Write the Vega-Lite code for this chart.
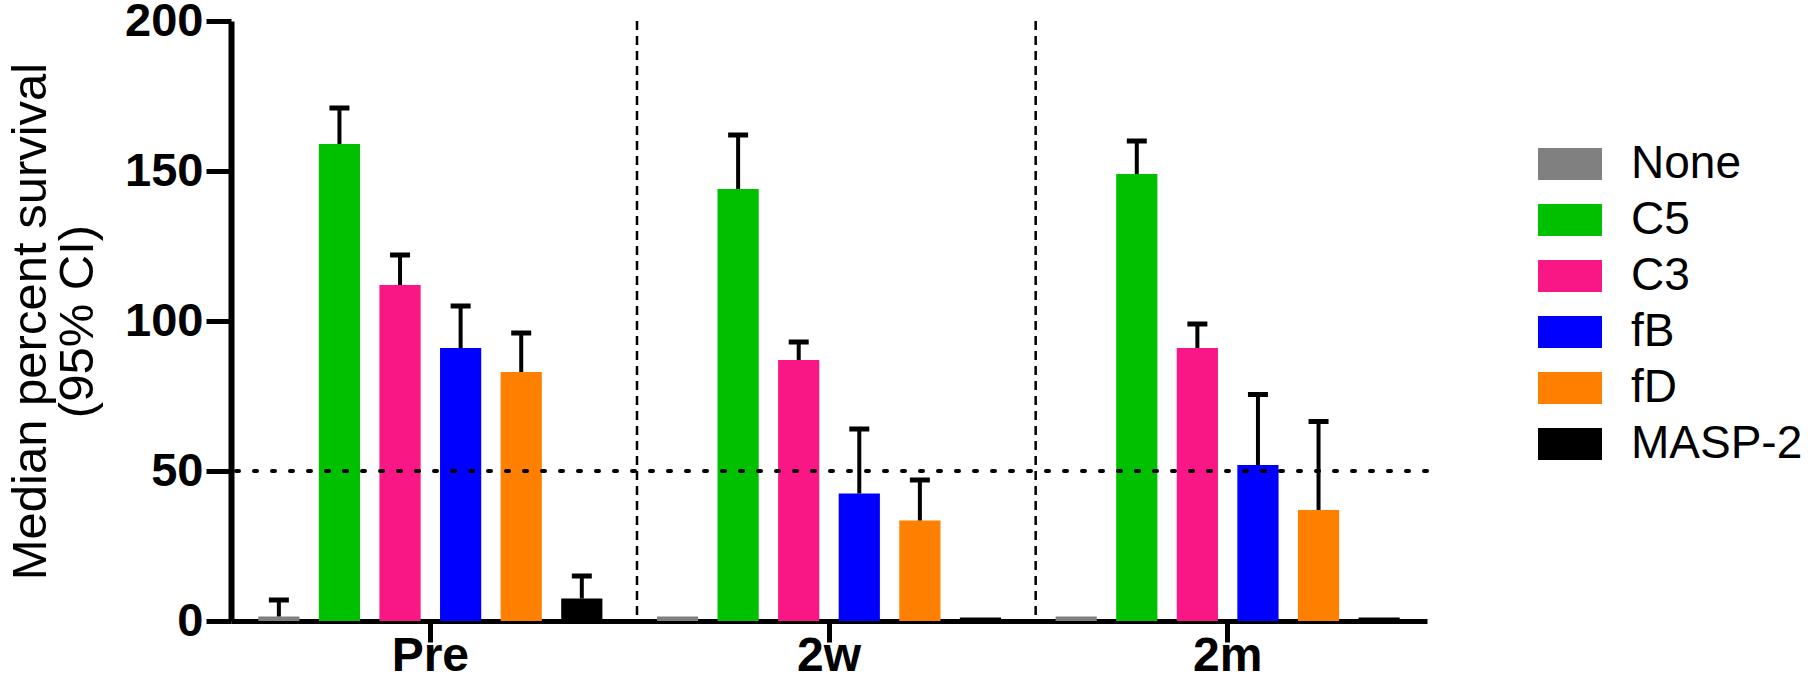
{
  "$schema": "https://vega.github.io/schema/vega-lite/v6.json",
  "width": 1196,
  "height": 600,
  "autosize": "none",
  "padding": {"left": 231, "top": 21, "right": 388, "bottom": 78},
  "background": "white",
  "config": {
    "view": {"stroke": null},
    "font": "Liberation Sans",
    "axis": {"grid": false, "domainColor": "black", "tickColor": "black", "labelColor": "black", "titleColor": "black", "zindex": 1}
  },
  "datasets": {
    "bars": [
      {"g": "Pre", "s": "None", "v": 1.5, "up": 7},
      {"g": "Pre", "s": "C5", "v": 159, "up": 171},
      {"g": "Pre", "s": "C3", "v": 112, "up": 122},
      {"g": "Pre", "s": "fB", "v": 91, "up": 105},
      {"g": "Pre", "s": "fD", "v": 83, "up": 96},
      {"g": "Pre", "s": "MASP-2", "v": 7.5, "up": 15},
      {"g": "2w", "s": "None", "v": 1.5, "up": null},
      {"g": "2w", "s": "C5", "v": 144, "up": 162},
      {"g": "2w", "s": "C3", "v": 87, "up": 93},
      {"g": "2w", "s": "fB", "v": 42.5, "up": 64},
      {"g": "2w", "s": "fD", "v": 33.5, "up": 47},
      {"g": "2w", "s": "MASP-2", "v": 1.2, "up": null},
      {"g": "2m", "s": "None", "v": 1.5, "up": null},
      {"g": "2m", "s": "C5", "v": 149, "up": 160},
      {"g": "2m", "s": "C3", "v": 91, "up": 99},
      {"g": "2m", "s": "fB", "v": 52, "up": 75.5},
      {"g": "2m", "s": "fD", "v": 37, "up": 66.5},
      {"g": "2m", "s": "MASP-2", "v": 1.2, "up": null}
    ],
    "seps": [{"g": "2w"}, {"g": "2m"}],
    "ref": [{"y": 50}]
  },
  "layer": [
    {
      "data": {"name": "seps"},
      "mark": {"type": "rule", "strokeDash": [9, 6], "strokeWidth": 2.5, "color": "black", "xOffset": -192},
      "encoding": {
        "x": {"field": "g", "type": "nominal", "sort": ["Pre", "2w", "2m"]}
      }
    },
    {
      "data": {"name": "bars"},
      "mark": {"type": "bar"},
      "encoding": {
        "x": {"field": "g", "type": "nominal", "sort": ["Pre", "2w", "2m"], "scale": {"domain": ["Pre", "2w", "2m"], "paddingInner": 0, "paddingOuter": 0},
          "axis": {"title": null, "labelAngle": 0, "labelAlign": "center", "domainWidth": 5, "tickSize": 21, "tickWidth": 5, "labelFontSize": 48, "labelFontWeight": "bold", "labelPadding": 14}},
        "xOffset": {"field": "s", "type": "nominal", "sort": ["None", "C5", "C3", "fB", "fD", "MASP-2"], "scale": {"paddingInner": 0.32, "paddingOuter": 0.45}},
        "y": {"field": "v", "type": "quantitative", "scale": {"domain": [0, 200], "nice": false},
          "axis": {"title": ["Median percent survival", "(95% CI)"], "values": [0, 50, 100, 150, 200], "domainWidth": 6, "tickSize": 25, "tickWidth": 5, "labelFontSize": 47, "labelFontWeight": "bold", "labelPadding": 3, "titleFontSize": 49, "titleFontWeight": "normal", "titlePadding": 22, "titleLineHeight": 47}},
        "color": {"field": "s", "type": "nominal", "sort": ["None", "C5", "C3", "fB", "fD", "MASP-2"],
          "scale": {"domain": ["None", "C5", "C3", "fB", "fD", "MASP-2"], "range": ["#808080", "#00C000", "#F91685", "#0000FF", "#FF8000", "#000000"]},
          "legend": {"title": null, "orient": "none", "legendX": 1316, "legendY": 120, "symbolType": "M-2,-1H2V1H-2Z", "symbolSize": 1024, "symbolStrokeWidth": 0, "symbolOpacity": 1, "labelFontSize": 46, "labelOffset": 38, "labelLimit": 0, "rowPadding": 10, "labelColor": "black"}}
      }
    },
    {
      "data": {"name": "bars"},
      "transform": [{"filter": "isValid(datum.up)"}],
      "mark": {"type": "rule", "strokeWidth": 4, "color": "black"},
      "encoding": {
        "x": {"field": "g", "type": "nominal", "sort": ["Pre", "2w", "2m"]},
        "xOffset": {"field": "s", "type": "nominal", "sort": ["None", "C5", "C3", "fB", "fD", "MASP-2"]},
        "y": {"field": "v", "type": "quantitative"},
        "y2": {"field": "up"}
      }
    },
    {
      "data": {"name": "bars"},
      "transform": [{"filter": "isValid(datum.up)"}],
      "mark": {"type": "tick", "orient": "horizontal", "size": 20, "thickness": 5, "color": "black", "opacity": 1},
      "encoding": {
        "x": {"field": "g", "type": "nominal", "sort": ["Pre", "2w", "2m"]},
        "xOffset": {"field": "s", "type": "nominal", "sort": ["None", "C5", "C3", "fB", "fD", "MASP-2"]},
        "y": {"field": "up", "type": "quantitative"}
      }
    },
    {
      "data": {"name": "ref"},
      "mark": {"type": "rule", "strokeDash": [3, 15], "strokeWidth": 4, "color": "black", "strokeCap": "round"},
      "encoding": {"y": {"field": "y", "type": "quantitative"}}
    }
  ]
}
